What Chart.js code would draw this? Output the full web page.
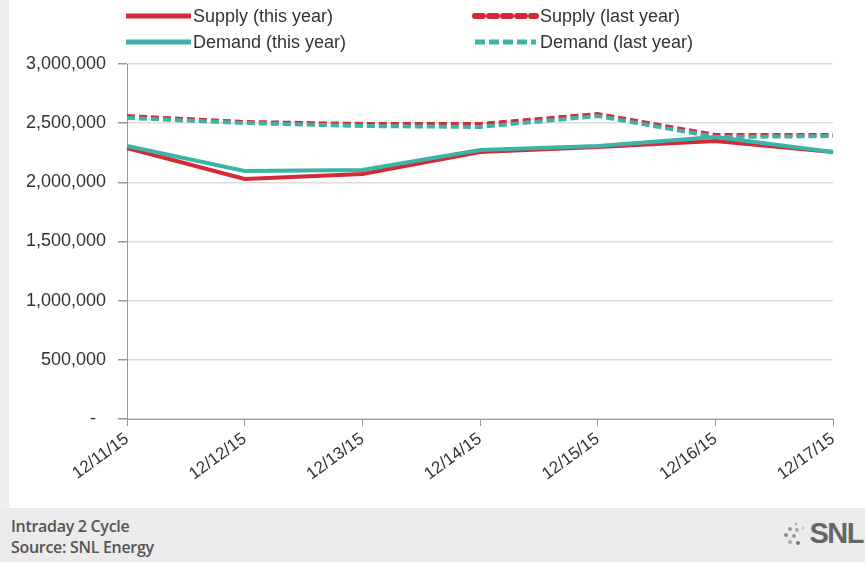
<!DOCTYPE html>
<html lang="en">
<head>
<meta charset="UTF-8">
<title>Supply and Demand</title>
<script src="https://cdn.jsdelivr.net/npm/chart.js"></script>
<style>
  body { margin: 0; background: #fff; font-family: "Liberation Sans", Arial, sans-serif; }
  .pagina { position: relative; width: 865px; height: 562px; overflow: hidden; background: #fff; }
  .faixa-esq { position: absolute; left: 0; top: 0; width: 9px; height: 508px; background: #efefef; }
  #grafico { position: absolute; left: 0; top: 0; }
  .legenda { position: absolute; font-size: 18px; color: #333; white-space: nowrap; line-height: 20px; }
  .legenda svg { position: absolute; left: 0; top: 5px; }
  .legenda span { position: absolute; top: 0; }
  .rodape { position: absolute; left: 0; top: 508px; width: 865px; height: 54px; background: #ebebeb; }
  .rodape .fonte { position: absolute; left: 11px; top: 8px; font-family: "Open Sans", sans-serif; font-size: 16px; font-weight: 600; line-height: 21px; color: #555; letter-spacing: -0.3px; }
  .rodape .logo { position: absolute; right: 2px; top: 9px; font-family: "Liberation Sans", Arial, sans-serif; font-weight: bold; font-size: 29px; color: #666; letter-spacing: -1.5px; }
  .rodape .pontos { position: absolute; left: 782px; top: 12px; }
</style>
</head>
<body>
<div class="pagina">
  <div class="faixa-esq"></div>
  <canvas id="grafico" width="865" height="508"></canvas>

  <div class="legenda" style="left:126px; top:6px;">
    <svg width="66" height="10"><line x1="0" y1="5" x2="65" y2="5" stroke="#d42a35" stroke-width="5"/></svg>
    <span style="left:67px;">Supply (this year)</span>
  </div>
  <div class="legenda" style="left:126px; top:32px;">
    <svg width="66" height="10"><line x1="0" y1="5" x2="65" y2="5" stroke="#3cb3a8" stroke-width="5"/></svg>
    <span style="left:67px;">Demand (this year)</span>
  </div>
  <div class="legenda" style="left:472px; top:6px;">
    <svg width="67" height="10"><line x1="3" y1="5" x2="64" y2="5" stroke="#d42a35" stroke-width="6" stroke-linecap="round" stroke-dasharray="8 6"/></svg>
    <span style="left:68px;">Supply (last year)</span>
  </div>
  <div class="legenda" style="left:472px; top:32px;">
    <svg width="67" height="10"><line x1="3" y1="5" x2="64" y2="5" stroke="#3cb3a8" stroke-width="5" stroke-dasharray="10 4"/></svg>
    <span style="left:68px;">Demand (last year)</span>
  </div>

  <div class="rodape">
    <div class="fonte">Intraday 2 Cycle<br>Source: SNL Energy</div>
    <svg class="pontos" width="26" height="30">
      <circle cx="14" cy="4" r="1.5" fill="#bbb"/>
      <circle cx="8" cy="9" r="2" fill="#999"/>
      <circle cx="15" cy="10" r="2" fill="#aaa"/>
      <circle cx="21" cy="8" r="1.5" fill="#ccc"/>
      <circle cx="4" cy="15" r="2" fill="#888"/>
      <circle cx="12" cy="16" r="2" fill="#999"/>
      <circle cx="8" cy="22" r="2" fill="#aaa"/>
      <circle cx="16" cy="23" r="2" fill="#777"/>
    </svg>
    <div class="logo">SNL</div>
  </div>
</div>

<script>
// dados
const categorias = ["12/11/15", "12/12/15", "12/13/15", "12/14/15", "12/15/15", "12/16/15", "12/17/15"];
const ofertaEsteAno = [2290000, 2028000, 2070000, 2256000, 2298000, 2349000, 2256000];
const demandaEsteAno = [2307000, 2096000, 2104000, 2273000, 2307000, 2383000, 2256000];
const ofertaAnoPassado = [2560000, 2510000, 2493000, 2493000, 2577000, 2400000, 2400000];
const demandaAnoPassado = [2544000, 2501000, 2476000, 2468000, 2560000, 2383000, 2391000];
const ticksY = [0, 500000, 1000000, 1500000, 2000000, 2500000, 3000000];

const vermelho = '#d42a35';
const verde = '#3cb3a8';

let dados = {
  labels: categorias,
  datasets: [
    { label: "Supply (this year)", data: ofertaEsteAno, borderColor: vermelho, borderWidth: 4, order: 2 },
    { label: "Demand (this year)", data: demandaEsteAno, borderColor: verde, borderWidth: 4, order: 1 },
    { label: "Supply (last year)", data: ofertaAnoPassado, borderColor: vermelho, borderWidth: 4, borderDash: [8, 4], order: 2 },
    { label: "Demand (last year)", data: demandaAnoPassado, borderColor: verde, borderWidth: 4, borderDash: [8, 4], order: 1 }
  ]
};

let config = {
  type: 'line',
  data: dados,
  options: {
    responsive: false,
    animation: false,
    devicePixelRatio: 1,
    layout: { padding: { left: 0, top: 64, right: 32, bottom: 0 } },
    elements: {
      point: { radius: 0, hoverRadius: 0 },
      line: { tension: 0, fill: false, borderCapStyle: 'butt', borderJoinStyle: 'miter' }
    },
    plugins: { legend: { display: false }, tooltip: { enabled: false } },
    scales: {
      x: {
        offset: false,
        grid: { drawOnChartArea: false, drawTicks: true, tickLength: 7, tickColor: '#999' },
        border: { color: '#999', width: 1 },
        ticks: {
          color: '#333',
          font: { family: "Liberation Sans", size: 17 },
          minRotation: 36, maxRotation: 36, padding: 3, autoSkip: false
        },
        afterFit: function (escala) { escala.height = 89; }
      },
      y: {
        min: 0, max: 3000000,
        afterBuildTicks: function (escala) { escala.ticks = ticksY.map(v => ({ value: v })); },
        grid: { color: '#dcdcdc', lineWidth: 1.5, tickLength: 9, tickColor: '#999' },
        border: { color: '#999', width: 1 },
        ticks: {
          color: '#333',
          font: { family: "Liberation Sans", size: 18 },
          padding: 12,
          callback: function (v) { return v === 0 ? '-  ' : v.toLocaleString('en-US'); }
        },
        afterFit: function (escala) { escala.width = 127; }
      }
    }
  }
};

let meuGrafico = new Chart(document.getElementById('grafico'), config);
</script>
</body>
</html>
